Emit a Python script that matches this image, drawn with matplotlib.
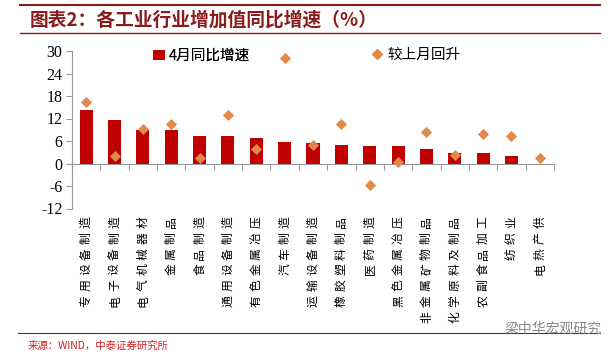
import numpy as np
import matplotlib
matplotlib.use("Agg")
import matplotlib.pyplot as plt
from matplotlib.lines import Line2D
from matplotlib.patches import Patch

plt.rcParams['font.family'] = ['Noto Sans CJK SC', 'DejaVu Sans']

industries = ["专用设备制造", "电子设备制造", "电气机械器材", "金属制品", "食品制造",
              "通用设备制造", "有色金属冶压", "汽车制造", "运输设备制造", "橡胶塑料制品",
              "医药制造", "黑色金属冶压", "非金属矿物制品", "化学原料及制品", "农副食品加工",
              "纺织业", "电热产供"]
april_yoy = [14.4, 11.6, 8.9, 8.9, 7.4, 7.4, 6.7, 5.7, 5.6, 5.0,
             4.6, 4.6, 4.0, 2.9, 2.9, 1.9, -0.3]
rise_vs_prev = [16.4, 1.9, 9.1, 10.5, 1.5, 12.9, 4.0, 28.1, 5.0, 10.5,
                -5.7, 0.5, 8.5, 2.3, 7.8, 7.4, 1.6]
yticks = [-12, -6, 0, 6, 12, 18, 24, 30]

bar_color = "#C00000"
dia_color = "#E0894A"
dark_red = "#8B1A1A"

fig = plt.figure(figsize=(6.12, 3.57), dpi=100)
ax = fig.add_axes([72 / 612, 1 - 208.5 / 357, 482 / 612, 157.5 / 357])

x = np.arange(len(industries))
ax.bar(x, april_yoy, width=0.46, color=bar_color, zorder=2)
ax.scatter(x, rise_vs_prev, marker="D", s=32, color=dia_color, zorder=3, linewidths=0)

ax.set_xlim(-0.5, len(industries) - 0.5)
ax.set_ylim(-12, 30)
ax.set_yticks(yticks)
ax.set_yticklabels([str(v) for v in yticks], fontfamily="Liberation Serif", fontsize=11.5)
ax.tick_params(axis="y", direction="out", length=4, color="#999999", pad=3)

for s in ["top", "right"]:
    ax.spines[s].set_visible(False)
ax.spines["left"].set_color("#999999")
ax.spines["bottom"].set_color("#999999")
ax.spines["bottom"].set_position(("data", 0))
ax.set_xticks(np.arange(len(industries) + 1) - 0.5)
ax.set_xticklabels([])
ax.tick_params(axis="x", direction="out", length=4, color="#999999")

# category names: rotated 90°, read bottom-to-top, ends aligned at top, wide letter spacing
step = 11.4  # points per character
for i, name in enumerate(industries):
    for j, ch in enumerate(reversed(name)):
        ax.annotate(ch, xy=(i, -12), xytext=(0, -5.5 - j * step), textcoords="offset points",
                    rotation=90, ha="center", va="top", fontsize=8.5, annotation_clip=False)

h1 = Patch(facecolor=bar_color, edgecolor="none")
h2 = Line2D([], [], marker="D", linestyle="none", color=dia_color, markersize=5)
leg1 = fig.legend([h1], ["4月同比增速"], loc="center left", bbox_to_anchor=(140 / 612, 1 - 56 / 357),
                  frameon=False, fontsize=10.5, handlelength=0.8, handletextpad=0.3)
fig.add_artist(leg1)
fig.legend([h2], ["较上月回升"], loc="center left", bbox_to_anchor=(358 / 612, 1 - 55 / 357),
           frameon=False, fontsize=10.5, handlelength=0.8, handletextpad=0.3)

# header and footer
fig.add_artist(Line2D([20 / 612, 600 / 612], [1 - 5 / 357, 1 - 5 / 357], color=dark_red, lw=1.5))
fig.add_artist(Line2D([20 / 612, 600 / 612], [1 - 33 / 357, 1 - 33 / 357], color=dark_red, lw=1.0))
fig.text(30 / 612, 1 - 20 / 357, "图表2：各工业行业增加值同比增速（%）", color=dark_red,
         fontsize=13.5, fontweight="bold", style="italic", va="center")
fig.add_artist(Line2D([18 / 612, 600 / 612], [1 - 333 / 357, 1 - 333 / 357], color=dark_red, lw=0.8))
fig.text(28 / 612, 1 - 346 / 357, "来源：WIND，中泰证券研究所", color="#D02020", fontsize=7.5, va="center")
fig.text(505 / 612, 1 - 329 / 357, "梁中华宏观研究", color="#888888", fontsize=10, va="center")

fig.savefig("out.png", dpi=100)
